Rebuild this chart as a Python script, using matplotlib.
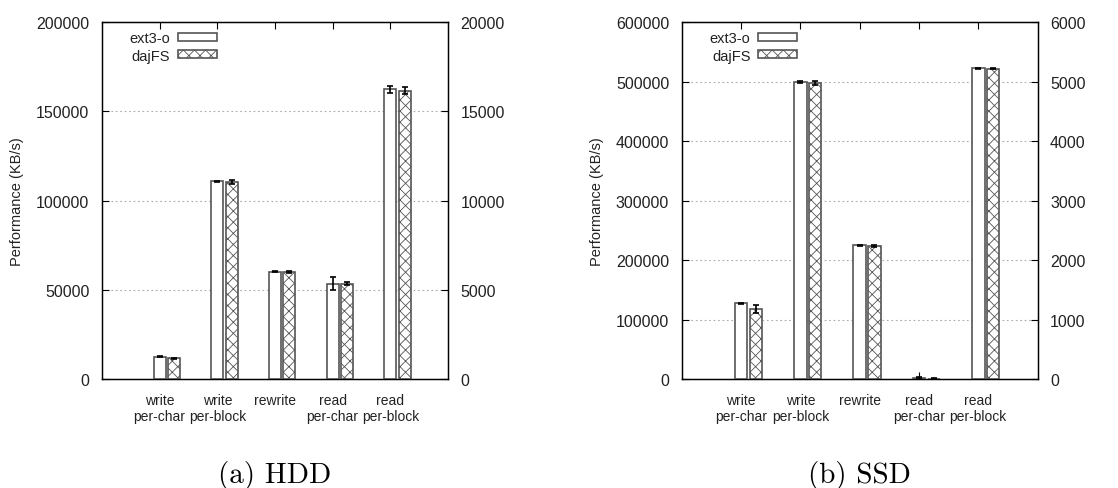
import numpy as np
import matplotlib
matplotlib.use("Agg")
import matplotlib.pyplot as plt

plt.rcParams["font.family"] = ["Liberation Sans", "DejaVu Sans"]
plt.rcParams["font.size"] = 10
plt.rcParams["hatch.linewidth"] = 0.6

# bonnie++ results, KB/s
categories = ["write\nper-char", "write\nper-block", "rewrite",
              "read\nper-char", "read\nper-block"]
series = ["ext3-o", "dajFS"]

hdd_ext3 = [12500, 110700, 60200, 53500, 162200]
hdd_ext3_err = [300, 300, 300, 3400, 1900]
hdd_dajfs = [11600, 110500, 59800, 53400, 161500]
hdd_dajfs_err = [300, 1200, 600, 700, 1900]

ssd_ext3 = [127000, 499700, 224400, 1500, 522100]
ssd_ext3_err = [1500, 1500, 1200, 1500, 1200]
ssd_dajfs = [117500, 497800, 223900, 700, 521600]
ssd_dajfs_err = [6500, 3500, 1200, 300, 1200]

hdd_ylim, hdd_step = 200000, 50000
ssd_ylim, ssd_step = 600000, 100000

BAR_W = 0.21
OFFSET = 0.25
EDGE = "#555555"
TEXT = "#222222"


def draw_panel(ax, ext3, ext3_err, dajfs, dajfs_err, ymax, ystep, y2scale,
               caption, cap_x):
    x = np.arange(len(categories))
    err_kw = dict(ecolor="black", elinewidth=1.2, capsize=2.5, capthick=1.2)
    b1 = ax.bar(x, ext3, BAR_W, yerr=ext3_err, color="white",
                edgecolor=EDGE, linewidth=1.2, error_kw=err_kw, zorder=3,
                label=series[0])
    b2 = ax.bar(x + OFFSET, dajfs, BAR_W, yerr=dajfs_err, color="white",
                edgecolor=EDGE, linewidth=1.2, hatch="xxx", error_kw=err_kw,
                zorder=3, label=series[1])

    ax.set_xlim(-1, len(categories))
    ax.set_ylim(0, ymax)
    ax.set_xticks(x)
    ax.set_xticklabels(categories, linespacing=1.15)
    ax.set_yticks(np.arange(0, ymax + 1, ystep))
    ax.tick_params(direction="in", length=5, width=0.8, top=True,
                   right=False, pad=9, labelcolor=TEXT)
    ax.tick_params(axis="y", labelsize=11.5)
    ax.tick_params(axis="x", pad=10)
    ax.yaxis.grid(True, linestyle=(0, (1.5, 2.5)), color="#aaaaaa",
                  linewidth=0.8, zorder=0)
    for sp in ax.spines.values():
        sp.set_linewidth(1.0)
    ax.set_ylabel("Performance (KB/s)", fontsize=10.5, color=TEXT)

    ax2 = ax.twinx()
    ax2.set_ylim(0, ymax / y2scale)
    ax2.set_yticks(np.arange(0, ymax / y2scale + 1, ystep / y2scale))
    ax2.tick_params(direction="in", length=5, width=0.8, pad=9,
                    labelsize=11.5, labelcolor=TEXT)

    leg = ax.legend(handles=[b1, b2], loc="upper left",
                    bbox_to_anchor=(0.042, 1.012), frameon=False,
                    markerfirst=False, handlelength=2.7, handleheight=0.45,
                    handletextpad=0.5, labelspacing=0.25, borderpad=0.4,
                    fontsize=10.5)
    for t in leg.get_texts():
        t.set_color(TEXT)

    ax.figure.text(cap_x, 0.028, caption, ha="center", va="center",
                   family="cmr10", fontsize=21)


fig = plt.figure(figsize=(11.18, 4.89), dpi=100)
ax_hdd = fig.add_axes([0.0912, 0.2229, 0.3095, 0.730])
ax_ssd = fig.add_axes([0.6097, 0.2229, 0.3184, 0.730])

draw_panel(ax_hdd, hdd_ext3, hdd_ext3_err, hdd_dajfs, hdd_dajfs_err,
           hdd_ylim, hdd_step, 10, "(a) HDD", 0.0912 + 0.3095 / 2)
draw_panel(ax_ssd, ssd_ext3, ssd_ext3_err, ssd_dajfs, ssd_dajfs_err,
           ssd_ylim, ssd_step, 100, "(b) SSD", 0.6097 + 0.3184 / 2)

ax_hdd.yaxis.set_label_coords(-0.225, 0.5)
ax_ssd.yaxis.set_label_coords(-0.218, 0.5)

fig.savefig("out.png", dpi=100)
